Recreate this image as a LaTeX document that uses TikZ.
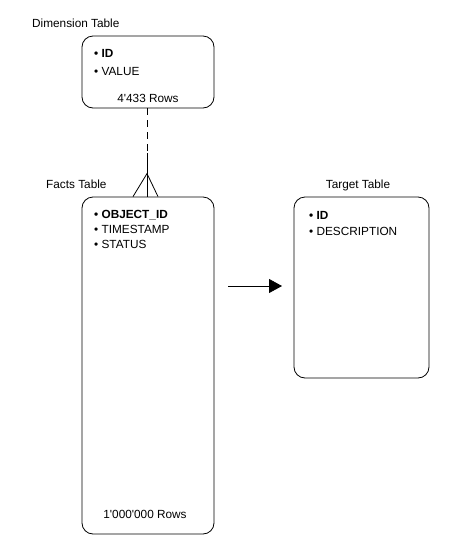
\documentclass[tikz,border=0pt]{standalone}
\usepackage{fontspec}
\setmainfont{Liberation Sans}
\usetikzlibrary{arrows.meta,calc}
\begin{document}
\begin{tikzpicture}[x=1pt,y=-1pt,
  tbl/.style={draw,line width=0.8pt,rounded corners=11pt,inner sep=0pt},
  txt/.style={anchor=base west,inner sep=0pt,font=\fontsize{11.8}{13}\selectfont},
  ctxt/.style={anchor=base,inner sep=0pt,font=\fontsize{11.8}{13}\selectfont},
  conn/.style={line width=0.8pt}]
\useasboundingbox (0,0) rectangle (462,560);
% tables
\node[tbl,minimum width=132pt,minimum height=72pt] (dim) at (148,72) {};
\node[tbl,minimum width=132pt,minimum height=337pt] (facts) at (148,365.5) {};
\node[tbl,minimum width=135pt,minimum height=181pt] (target) at (361.5,287.5) {};
% titles
\node[txt] (dimlbl) at (32,27) {Dimension Table};
\node[txt] (factslbl) at (46,188) {Facts Table};
\node[ctxt] (targetlbl) at (358,188) {Target Table};
% dimension rows
\node[txt] (d1) at (94,57) {\textbf{• ID}};
\node[txt] (d2) at (94,75) {• VALUE};
\node[ctxt] (d3) at (148,102) {4\textquotesingle 433 Rows};
% facts rows
\node[txt] (f1) at (94,218) {\textbf{• OBJECT\_ID}};
\node[txt] (f2) at (94,233) {• TIMESTAMP};
\node[txt] (f3) at (94,248) {• STATUS};
\node[ctxt] (f4) at (145,518) {1\textquotesingle 000\textquotesingle 000 Rows};
% target rows
\node[txt] (t1) at (309,219) {\textbf{• ID}};
\node[txt] (t2) at (309,235) {• DESCRIPTION};
% relationship dim -> facts
\coordinate (dtop) at ($(dim.south)+(-1,0)$);
\coordinate (mid) at ($(dim.south)+(-1,45)$);
\coordinate (apex) at ($(facts.north)+(-1,-23)$);
\coordinate (fbot) at ($(facts.north)+(-1,0)$);
\coordinate (footl) at ($(facts.north)+(-15,0)$);
\coordinate (footr) at ($(facts.north)+(10,0)$);
\draw[conn,dash pattern=on 7pt off 5pt] (dtop) -- (mid);
\draw[conn] (mid) -- (fbot);
\draw[conn] (footl) -- (apex) -- (footr);
% arrow
\coordinate (as) at (228,286);
\coordinate (ae) at (282,286);
\draw[conn,-{Triangle[length=13pt,width=14pt]}] (as) -- (ae);
\end{tikzpicture}
\end{document}
